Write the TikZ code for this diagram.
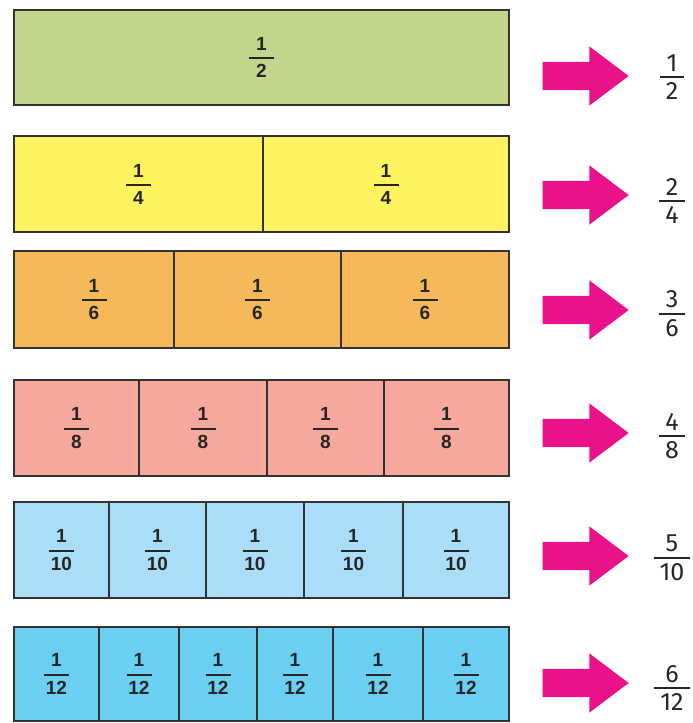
\documentclass[tikz,border=0pt]{standalone}
\usepackage{fontspec}
\setmainfont{Liberation Sans}
\newfontfamily\eqfont{Fira Sans}
\usepackage{xcolor}
\usetikzlibrary{shapes.arrows}

\definecolor{halfgreen}{RGB}{194,214,141}
\definecolor{quarteryellow}{RGB}{255,242,95}
\definecolor{sixthorange}{RGB}{245,185,90}
\definecolor{eighthsalmon}{RGB}{245,168,155}
\definecolor{tenthblue}{RGB}{170,222,248}
\definecolor{twelfthblue}{RGB}{107,206,243}
\definecolor{pointerpink}{RGB}{233,18,139}

% stacked fraction with a fixed bar, for the strips
\newcommand{\cellfrac}[2]{\vbox{\halign{\hbox to 25pt{\hss##\hss}\cr #1\cr
  \noalign{\kern7pt\hrule height 2pt\kern5pt}#2\cr}}}
% stacked fraction with a padded bar, for the results
\newcommand{\eqfrac}[2]{\vbox{\halign{\hfil\kern6pt##\kern6pt\hfil\cr #1\cr
  \noalign{\kern5pt\hrule height 1.6pt\kern5pt}#2\cr}}}

\begin{document}
\begin{tikzpicture}[
    x=1pt, y=-1pt,
    cell/.style={draw=black!80, line width=1.6pt, inner sep=0pt, align=center,
      font=\fontsize{19}{22}\selectfont\bfseries, text=black!85},
    halfcell/.style={cell, fill=halfgreen, minimum height=95pt},
    quartercell/.style={cell, fill=quarteryellow, minimum height=96pt},
    sixthcell/.style={cell, fill=sixthorange, minimum height=97pt},
    eighthcell/.style={cell, fill=eighthsalmon, minimum height=96pt},
    tenthcell/.style={cell, fill=tenthblue, minimum height=96pt},
    twelfthcell/.style={cell, fill=twelfthblue, minimum height=94pt},
    pointer/.style={single arrow, fill=pointerpink, inner sep=0pt, inner ysep=14pt,
      minimum height=86pt, single arrow head extend=15.5pt,
      single arrow tip angle=74, anchor=tip},
    result/.style={inner sep=0pt, font=\eqfont\fontsize{25}{30}\selectfont, text=black!85}
]
    \useasboundingbox (0,0) rectangle (693,723);

    % === Halves ===
    \node[halfcell, minimum width=495pt] (half1) at (261.5,57.5) {\cellfrac{1}{2}};

    % === Quarters ===
    \node[quartercell, minimum width=249pt] (quarter1) at (138.5,184) {\cellfrac{1}{4}};
    \node[quartercell, minimum width=246pt] (quarter2) at (386,184) {\cellfrac{1}{4}};

    % === Sixths ===
    \node[sixthcell, minimum width=160pt] (sixth1) at (94,299.5) {\cellfrac{1}{6}};
    \node[sixthcell, minimum width=167pt] (sixth2) at (257.5,299.5) {\cellfrac{1}{6}};
    \node[sixthcell, minimum width=168pt] (sixth3) at (425,299.5) {\cellfrac{1}{6}};

    % === Eighths ===
    \node[eighthcell, minimum width=125pt] (eighth1) at (76.5,428) {\cellfrac{1}{8}};
    \node[eighthcell, minimum width=128pt] (eighth2) at (203,428) {\cellfrac{1}{8}};
    \node[eighthcell, minimum width=117pt] (eighth3) at (325.5,428) {\cellfrac{1}{8}};
    \node[eighthcell, minimum width=125pt] (eighth4) at (446.5,428) {\cellfrac{1}{8}};

    % === Tenths ===
    \node[tenthcell, minimum width=95pt] (tenth1) at (61.5,550) {\cellfrac{1}{10}};
    \node[tenthcell, minimum width=97pt] (tenth2) at (157.5,550) {\cellfrac{1}{10}};
    \node[tenthcell, minimum width=98pt] (tenth3) at (255,550) {\cellfrac{1}{10}};
    \node[tenthcell, minimum width=99pt] (tenth4) at (353.5,550) {\cellfrac{1}{10}};
    \node[tenthcell, minimum width=106pt] (tenth5) at (456,550) {\cellfrac{1}{10}};

    % === Twelfths ===
    \node[twelfthcell, minimum width=85pt] (twelfth1) at (56.5,674) {\cellfrac{1}{12}};
    \node[twelfthcell, minimum width=80pt] (twelfth2) at (139,674) {\cellfrac{1}{12}};
    \node[twelfthcell, minimum width=78pt] (twelfth3) at (218,674) {\cellfrac{1}{12}};
    \node[twelfthcell, minimum width=76pt] (twelfth4) at (295,674) {\cellfrac{1}{12}};
    \node[twelfthcell, minimum width=90pt] (twelfth5) at (378,674) {\cellfrac{1}{12}};
    \node[twelfthcell, minimum width=86pt] (twelfth6) at (466,674) {\cellfrac{1}{12}};

    % Arrows
    \node[pointer] (arrow1) at (629,76) {};
    \node[pointer] (arrow2) at (629,195) {};
    \node[pointer] (arrow3) at (629,310) {};
    \node[pointer] (arrow4) at (629,433) {};
    \node[pointer] (arrow5) at (629,556) {};
    \node[pointer] (arrow6) at (629,683) {};

    % Equivalent fractions
    \node[result] (eq1) at (672,77) {\eqfrac{1}{2}};
    \node[result] (eq2) at (672,201) {\eqfrac{2}{4}};
    \node[result] (eq3) at (672,314) {\eqfrac{3}{6}};
    \node[result] (eq4) at (672,436) {\eqfrac{4}{8}};
    \node[result] (eq5) at (672,558) {\eqfrac{5}{10}};
    \node[result] (eq6) at (672,688) {\eqfrac{6}{12}};
\end{tikzpicture}
\end{document}
